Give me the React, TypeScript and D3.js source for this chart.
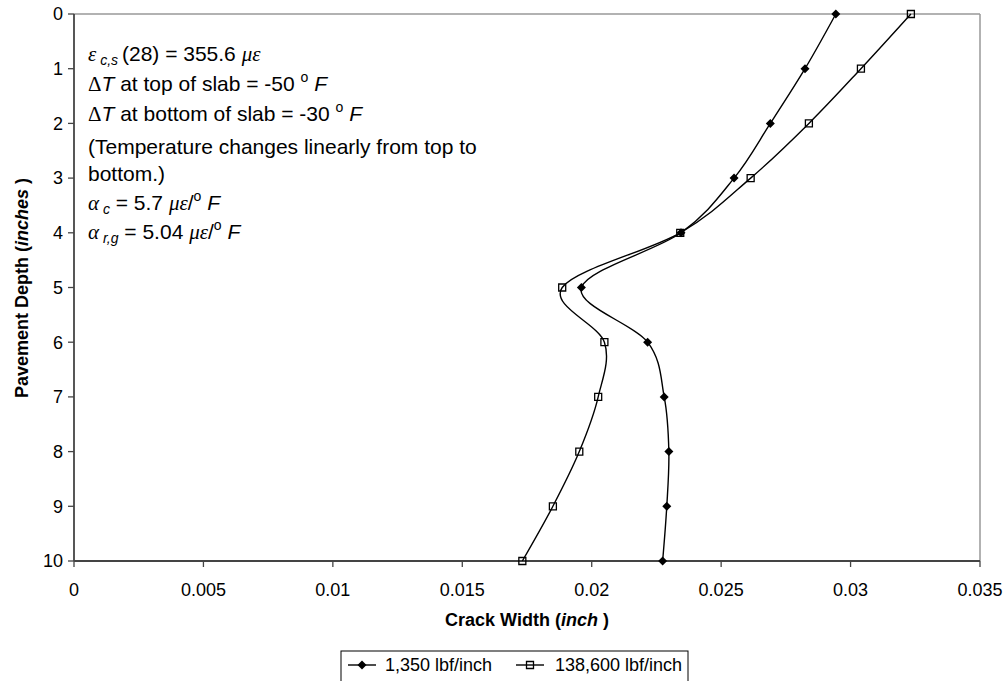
import React from "react";
import * as d3 from "d3";

const depths = [0, 1, 2, 3, 4, 5, 6, 7, 8, 9, 10];
const width1350 = [0.02943, 0.02824, 0.0269, 0.0255, 0.02345, 0.0196, 0.02216, 0.0228, 0.02298, 0.0229, 0.02274];
const width138600 = [0.03233, 0.0304, 0.02839, 0.02614, 0.02342, 0.01886, 0.02049, 0.02025, 0.01952, 0.0185, 0.01732];
const xTicks = [0, 0.005, 0.01, 0.015, 0.02, 0.025, 0.03, 0.035];
const yTicks = [0, 1, 2, 3, 4, 5, 6, 7, 8, 9, 10];
const seriesNames = ["1,350 lbf/inch", "138,600 lbf/inch"];

const W = 1005;
const H = 681;
const FONT = "'Liberation Sans', Arial, sans-serif";
const GREEK = "'Liberation Serif', 'DejaVu Serif', serif";

export default function App() {
  const x = d3.scaleLinear().domain([0, 0.035]).range([74, 980]);
  const y = d3.scaleLinear().domain([0, 10]).range([14, 561]);
  const line = d3
    .line<[number, number]>()
    .x((d) => x(d[0]))
    .y((d) => y(d[1]))
    .curve(d3.curveCatmullRom.alpha(0));
  const s1: [number, number][] = depths.map((d, i) => [width1350[i], d]);
  const s2: [number, number][] = depths.map((d, i) => [width138600[i], d]);

  const diamond = "M0,-4.5L4.5,0L0,4.5L-4.5,0Z";
  const square = "M-3.5,-3.5L3.5,-3.5L3.5,3.5L-3.5,3.5Z";
  const fs = 18;
  const ann = 21;
  const sub = { fontSize: 14 } as React.CSSProperties;

  return (
    <svg width={W} height={H} style={{ position: "absolute", left: 0, top: 0, background: "#fff" }} fontFamily={FONT}>
      <rect x={0} y={0} width={W} height={H} fill="#fff" />
      {/* plot border */}
      <line x1={74} x2={980} y1={14} y2={14} stroke="#999" strokeWidth={1.5} />
      <line x1={980} x2={980} y1={14} y2={561} stroke="#999" strokeWidth={1.5} />
      <line x1={74} x2={74} y1={14} y2={561} stroke="#444" strokeWidth={1.8} />
      <line x1={74} x2={980} y1={561} y2={561} stroke="#444" strokeWidth={1.8} />
      {yTicks.map((t) => (
        <g key={"y" + t}>
          <line x1={68} x2={74} y1={y(t)} y2={y(t)} stroke="#444" strokeWidth={1.3} />
          <text x={63} y={y(t)} dy="0.35em" textAnchor="end" fontSize={fs}>
            {t}
          </text>
        </g>
      ))}
      {xTicks.map((t) => (
        <g key={"x" + t}>
          <line x1={x(t)} x2={x(t)} y1={561} y2={567} stroke="#444" strokeWidth={1.3} />
          <text x={x(t)} y={590} dy="0.35em" textAnchor="middle" fontSize={fs}>
            {d3.format("~g")(t)}
          </text>
        </g>
      ))}
      <text x={527} y={620} dy="0.35em" textAnchor="middle" fontSize={18} fontWeight="bold">
        Crack Width (<tspan fontStyle="italic">inch</tspan> )
      </text>
      <text transform="translate(22,288) rotate(-90)" dy="0.35em" textAnchor="middle" fontSize={18} fontWeight="bold">
        Pavement Depth (<tspan fontStyle="italic">inches</tspan> )
      </text>

      {/* annotation */}
      <g fontSize={ann}>
        <text x={88} y={61}>
          <tspan fontFamily={GREEK} fontStyle="italic">ε</tspan>
          <tspan fontStyle="italic" style={sub} dy={4}> c,s </tspan>
          <tspan dy={-4}>(28) = 355.6 </tspan>
          <tspan fontFamily={GREEK} fontStyle="italic">με</tspan>
        </text>
        <text x={88} y={91}>
          <tspan fontFamily={GREEK}>Δ</tspan>
          <tspan fontStyle="italic">T</tspan>
          <tspan> at top of slab = -50 </tspan>
          <tspan style={sub} dy={-9}>o</tspan>
          <tspan dy={9} fontStyle="italic"> F</tspan>
        </text>
        <text x={88} y={121}>
          <tspan fontFamily={GREEK}>Δ</tspan>
          <tspan fontStyle="italic">T</tspan>
          <tspan> at bottom of slab = -30 </tspan>
          <tspan style={sub} dy={-9}>o</tspan>
          <tspan dy={9} fontStyle="italic"> F</tspan>
        </text>
        <text x={88} y={154}>(Temperature changes linearly from top to</text>
        <text x={88} y={181}>bottom.)</text>
        <text x={88} y={210}>
          <tspan fontFamily={GREEK} fontStyle="italic">α</tspan>
          <tspan fontStyle="italic" style={sub} dy={4}> c</tspan>
          <tspan dy={-4}> = 5.7 </tspan>
          <tspan fontFamily={GREEK} fontStyle="italic">με</tspan>
          <tspan>/</tspan>
          <tspan style={sub} dy={-9}>o</tspan>
          <tspan dy={9} fontStyle="italic"> F</tspan>
        </text>
        <text x={88} y={239}>
          <tspan fontFamily={GREEK} fontStyle="italic">α</tspan>
          <tspan fontStyle="italic" style={sub} dy={4}> r,g</tspan>
          <tspan dy={-4}> = 5.04 </tspan>
          <tspan fontFamily={GREEK} fontStyle="italic">με</tspan>
          <tspan>/</tspan>
          <tspan style={sub} dy={-9}>o</tspan>
          <tspan dy={9} fontStyle="italic"> F</tspan>
        </text>
      </g>

      {/* series */}
      <path d={line(s1) || ""} fill="none" stroke="#000" strokeWidth={1.4} />
      <path d={line(s2) || ""} fill="none" stroke="#000" strokeWidth={1.4} />
      {s1.map((d, i) => (
        <path key={"d" + i} d={diamond} transform={`translate(${x(d[0])},${y(d[1])})`} fill="#000" />
      ))}
      {s2.map((d, i) => (
        <path key={"s" + i} d={square} transform={`translate(${x(d[0])},${y(d[1])})`} fill="none" stroke="#000" strokeWidth={1.3} />
      ))}

      {/* legend */}
      <rect x={341} y={651} width={347} height={45} fill="#fff" stroke="#000" strokeWidth={1} />
      <g>
        <line x1={348} x2={376} y1={665} y2={665} stroke="#000" strokeWidth={1.4} />
        <path d={diamond} transform="translate(362,665)" fill="#000" />
        <text x={385} y={665} dy="0.35em" fontSize={18}>
          {seriesNames[0]}
        </text>
        <line x1={516} x2={544} y1={665} y2={665} stroke="#000" strokeWidth={1.4} />
        <path d={square} transform="translate(530,665)" fill="none" stroke="#000" strokeWidth={1.3} />
        <text x={555} y={665} dy="0.35em" fontSize={18}>
          {seriesNames[1]}
        </text>
      </g>
    </svg>
  );
}
